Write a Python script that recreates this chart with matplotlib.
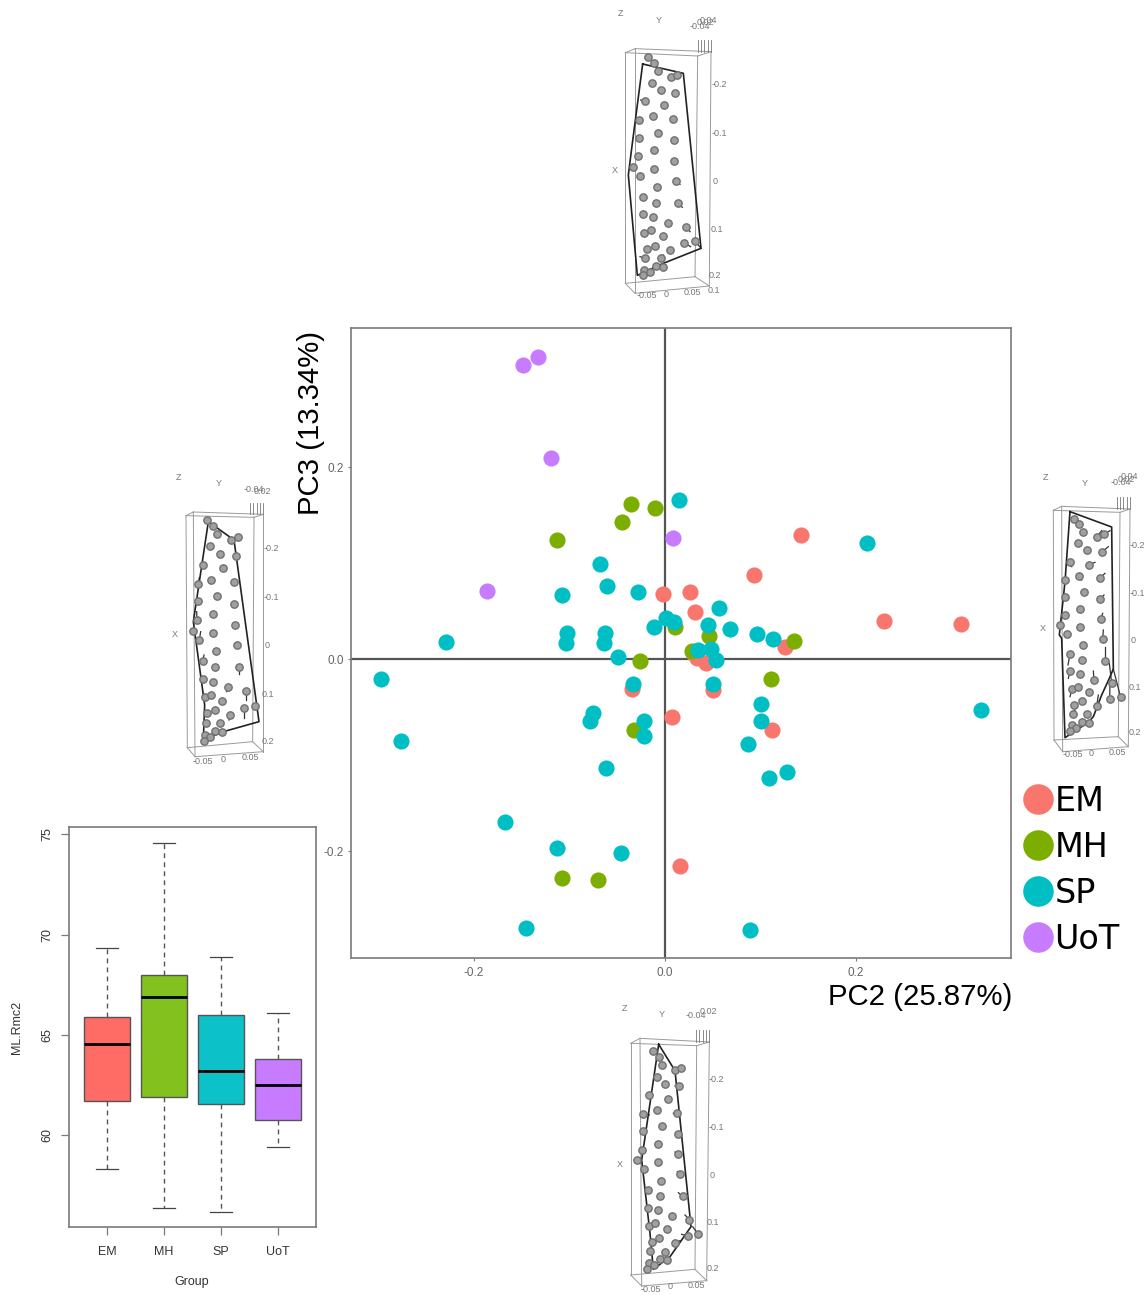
import numpy as np
import matplotlib
matplotlib.use('Agg')
import matplotlib.pyplot as plt
from matplotlib.lines import Line2D

W, H = 1147, 1295
plt.rcParams['font.family'] = ['Liberation Sans', 'DejaVu Sans']
plt.rcParams['axes.unicode_minus'] = False

# PCA scores (PC2, PC3)
em_x = [-0.002, 0.026, 0.031, 0.093, 0.142, 0.229, 0.310, 0.126, 0.029, 0.034, 0.043, 0.050, -0.035, 0.007, 0.112, 0.016]
em_y = [0.068, 0.070, 0.049, 0.0875, 0.129, 0.040, 0.036, 0.012, 0.006, 0.001, -0.004, -0.032, -0.031, -0.060, -0.074, -0.216]
mh_x = [-0.036, -0.010, -0.045, -0.113, 0.010, 0.046, 0.135, 0.028, -0.026, 0.111, -0.032, -0.108, -0.070]
mh_y = [0.161, 0.157, 0.143, 0.124, 0.033, 0.024, 0.019, 0.008, -0.002, -0.021, -0.074, -0.228, -0.230]
sp_x = [0.015, 0.212, -0.068, -0.061, -0.028, -0.108, 0.057, 0.001, 0.009, -0.012, 0.045, 0.068, 0.096, 0.113,
        -0.103, -0.104, -0.063, -0.064, -0.049, 0.035, 0.048, 0.053, -0.034, 0.050, 0.101, 0.101, -0.075, -0.079,
        -0.022, -0.022, 0.087, -0.229, -0.297, -0.276, 0.331, -0.062, 0.128, 0.109, -0.168, -0.113, -0.046, -0.146, 0.089]
sp_y = [0.166, 0.121, 0.099, 0.076, 0.070, 0.067, 0.053, 0.043, 0.039, 0.033, 0.035, 0.031, 0.026, 0.021,
        0.027, 0.017, 0.027, 0.017, 0.002, 0.009, 0.010, -0.001, -0.026, -0.026, -0.047, -0.065, -0.056, -0.065,
        -0.065, -0.080, -0.089, 0.018, -0.021, -0.085, -0.053, -0.114, -0.118, -0.124, -0.170, -0.197, -0.202, -0.280, -0.282]
uot_x = [-0.133, -0.149, -0.119, 0.008, -0.186]
uot_y = [0.315, 0.306, 0.209, 0.126, 0.071]

groups = ['EM', 'MH', 'SP', 'UoT']
point_colors = ['#F8766D', '#7CAE00', '#00BFC4', '#C77CFF']
box_colors = ['#FF6B65', '#83C11F', '#0CC1C7', '#C77CFF']
spine_color = '#7a7a7a'

# boxplot stats: low whisker, q1, median, q3, high whisker
box_low = [58.29, 56.39, 56.17, 59.4]
box_q1 = [61.7, 61.91, 61.58, 60.78]
box_med = [64.53, 66.87, 63.18, 62.5]
box_q3 = [65.87, 67.99, 66.01, 63.78]
box_high = [69.32, 74.58, 68.89, 66.09]

# shape panels, read in 3x crop coordinates
top_pts = [(145,171),(162,188),(173,214),(212,230),(232,224),(155,250),(183,271),(225,278),(134,304),(191,316),(118,361),(158,348),(220,358),(116,413),(175,399),(221,421),(114,468),(161,451),(223,482),(100,500),(120,527),(162,507),(229,544),(170,562),(129,590),(168,608),(235,610),(129,643),(160,651),(205,668),(258,681),(133,698),(153,690),(188,708),(142,746),(166,737),(211,750),(253,729),(285,723),(136,775),(183,775),(168,797),(188,800),(133,810),(150,817),(128,826)]
top_hull = [(128,192),(250,220),(303,745),(190,790),(112,826),(85,525),(97,430),(128,192)]
top_stems = [((229,544),(240,553)),((235,610),(247,622)),((258,681),(270,695)),((253,729),(272,740)),((285,723),(303,745)),((136,775),(120,770)),((183,775),(190,765)),((134,304),(122,300)),((133,810),(118,825))]
top_box = [(76,158),(293,168),(285,830),(76,850),(105,146),(333,155),(328,858),(105,880)]
top_labels = [(60,42,'Z'),(175,62,'Y'),(44,512,'X'),(358,254,'-0.2'),(358,400,'-0.1'),(345,545,'0'),(352,688,'0.1'),(345,828,'0.2'),(342,872,'0.1'),(142,888,'-0.05'),(198,884,'0'),(278,878,'0.05'),(300,80,'-0.04'),(325,62,'0.04'),(315,68,'0.02')]

left_pts = [(140,165),(158,183),(170,206),(212,225),(235,216),(151,244),(181,266),(227,272),(130,300),(189,310),(115,356),(154,344),(221,352),(113,409),(172,394),(222,417),(111,465),(159,447),(224,479),(98,498),(118,525),(160,504),(230,541),(168,559),(128,587),(166,606),(236,607),(129,641),(159,650),(204,667),(258,678),(134,697),(153,689),(187,707),(142,745),(165,736),(210,750),(252,729),(285,722),(138,773),(181,775),(165,797),(186,801),(135,809),(149,816),(131,827)]
left_hull = [(145,170),(222,225),(297,770),(190,800),(130,825),(134,720),(100,470),(145,170)]
left_stems = [((258,678),(258,705)),((252,729),(252,760)),((236,607),(236,628)),((118,525),(122,500)),((128,587),(132,570)),((111,465),(110,440)),((115,356),(118,338)),((210,750),(207,765)),((204,667),(200,680))]
left_box = [(78,152),(282,157),(278,830),(82,848),(100,141),(310,148),(310,860),(105,875)]
left_labels = [(54,38,'Z'),(176,55,'Y'),(45,508,'X'),(333,250,'-0.2'),(333,396,'-0.1'),(320,542,'0'),(325,688,'0.1'),(325,830,'0.2'),(130,888,'-0.05'),(190,882,'0'),(272,876,'0.05'),(283,72,'-0.04'),(308,80,'0.02')]

right_pts = [(131,161),(148,177),(159,200),(200,216),(222,208),(143,235),(171,256),(215,262),(121,290),(178,299),(106,344),(146,332),(209,340),(104,396),(162,380),(210,403),(104,449),(149,432),(212,461),(91,480),(110,506),(150,487),(218,522),(158,540),(120,566),(156,585),(224,587),(120,619),(149,626),(192,644),(245,654),(126,673),(143,665),(176,682),(133,720),(155,709),(200,724),(239,703),(272,697),(128,748),(171,748),(155,770),(176,773),(127,781),(137,789),(120,798)]
right_hull = [(120,140),(245,186),(250,612),(238,640),(215,690),(190,755),(175,772),(105,818),(95,520),(88,510),(105,350),(120,140)]
right_stems = [((218,522),(220,495)),((224,587),(224,545)),((245,654),(238,595)),((239,703),(240,650)),((272,697),(250,612)),((192,644),(190,618)),((200,724),(205,690)),((120,566),(114,600)),((120,619),(115,640)),((126,673),(120,695)),((128,748),(135,735)),((200,216),(215,197)),((222,208),(240,197)),((215,262),(235,245)),((209,340),(225,325)),((210,403),(222,390)),((212,461),(218,445)),((178,299),(195,292)),((121,290),(125,305)),((146,332),(155,345))]
right_box = [(70,136),(270,142),(265,815),(72,825),(95,124),(300,132),(295,845),(98,860)]
right_labels = [(47,36,'Z'),(165,54,'Y'),(38,490,'X'),(322,240,'-0.2'),(322,384,'-0.1'),(308,527,'0'),(314,668,'0.1'),(314,803,'0.2'),(128,868,'-0.05'),(184,865,'0'),(262,862,'0.05'),(272,52,'-0.04'),(298,34,'0.04'),(290,42,'0.02')]

bottom_pts = [(158,152),(176,170),(185,194),(224,211),(244,204),(170,231),(196,252),(238,259),(148,285),(204,296),(130,342),(171,329),(232,338),(129,394),(187,379),(233,401),(127,449),(174,431),(235,462),(112,481),(132,507),(175,487),(240,523),(182,542),(143,569),(180,588),(248,589),(143,624),(173,631),(217,648),(268,659),(147,678),(166,670),(201,687),(155,726),(178,715),(224,729),(264,708),(294,702),(149,754),(195,755),(179,777),(201,781),(147,789),(163,795),(142,807)]
bottom_hull = [(176,133),(225,212),(273,680),(210,770),(160,808),(150,700),(125,480),(176,133)]
bottom_stems = [((268,659),(255,645)),((248,589),(235,578)),((294,702),(278,680)),((224,729),(240,722)),((240,523),(232,515)),((235,462),(225,456)),((232,338),(220,340)),((238,259),(225,258)),((130,342),(148,345)),((264,708),(245,703))]
bottom_box = [(92,130),(290,137),(285,808),(92,825),(120,115),(328,126),(320,842),(125,858)]
bottom_labels = [(72,26,'Z'),(186,44,'Y'),(58,494,'X'),(348,238,'-0.2'),(348,382,'-0.1'),(335,527,'0'),(340,668,'0.1'),(340,806,'0.2'),(152,868,'-0.05'),(210,860,'0'),(288,856,'0.05'),(288,48,'-0.04'),(325,34,'0.02')]


def add_axes_px(x0, y0, w, h):
    return fig.add_axes([x0 / W, 1 - (y0 + h) / H, w / W, h / H])


def draw_panel(x0, y0, w, h, pts, hull, stems, box, labels):
    ax = add_axes_px(x0, y0, w, h)
    ax.set_xlim(0, w * 3)
    ax.set_ylim(h * 3, 0)
    ax.axis('off')
    # wireframe: corners are front tl, tr, br, bl then back tl, tr, br, bl
    for i, j in [(0,1),(1,2),(2,3),(3,0),(4,5),(5,6),(6,7),(7,4),(0,4),(1,5),(2,6),(3,7)]:
        ax.plot([box[i][0], box[j][0]], [box[i][1], box[j][1]], color='#9a9a9a', lw=0.7)
    # tick stubs on the corner
    tx, ty = box[5]
    for k in range(5):
        ax.plot([tx - k * 10, tx - k * 10], [ty, ty - 35], color='#777777', lw=0.6)
    for a, b in stems:
        ax.plot([a[0], b[0]], [a[1], b[1]], color='#333333', lw=0.9)
    hx, hy = zip(*hull)
    ax.plot(hx, hy, color='#222222', lw=1.2)
    px, py = zip(*pts)
    ax.scatter(px, py, s=28, color='#a0a0a0', edgecolors='#707070', linewidths=1.0, zorder=3)
    for lx, ly, txt in labels:
        ax.text(lx, ly, txt, fontsize=6.5, color='#777777', ha='center', va='center')


fig = plt.figure(figsize=(W / 100, H / 100), dpi=100)

# main PCA scatter
ax = add_axes_px(351, 328, 660, 630)
ax.set_xlim((351 - 665) / 955, (1011 - 665) / 955)
ax.set_ylim((659 - 958) / 960, (659 - 328) / 960)
ax.axhline(0, color='#555555', lw=1.6, zorder=1)
ax.axvline(0, color='#555555', lw=1.6, zorder=1)
for xs, ys, c in zip([em_x, mh_x, sp_x, uot_x], [em_y, mh_y, sp_y, uot_y], point_colors):
    ax.scatter(xs, ys, s=135, color=c, linewidths=0, zorder=3)
ax.set_xticks([-0.2, 0.0, 0.2])
ax.set_yticks([-0.2, 0.0, 0.2])
ax.tick_params(length=2.2, width=0.8, color=spine_color, labelsize=8.5, labelcolor='#666666')
ax.tick_params(axis='x', pad=4)
ax.tick_params(axis='y', pad=3)
for s in ax.spines.values():
    s.set_linewidth(1.2)
    s.set_color(spine_color)
fig.text(828 / W, 1 - 997 / H, 'PC2 (25.87%)', fontsize=21.2, ha='left', va='center')
fig.text(311 / W, 1 - 423 / H, 'PC3 (13.34%)', fontsize=21.2, rotation=90, ha='center', va='center')

handles = [Line2D([], [], marker='o', linestyle='', color=c, markersize=22, markeredgewidth=0) for c in point_colors]
fig.legend(handles, groups, loc='upper left', bbox_to_anchor=(1021 / W, 1 - 785 / H), frameon=False,
           prop={'family': 'DejaVu Sans', 'size': 24}, handlelength=1, handletextpad=0.0, labelspacing=0.39,
           borderaxespad=0, borderpad=0)

# boxplot
bx = add_axes_px(69, 827, 247, 400)
stats = [dict(whislo=lo, q1=q1, med=m, q3=q3, whishi=hi, fliers=[])
         for lo, q1, m, q3, hi in zip(box_low, box_q1, box_med, box_q3, box_high)]
art = bx.bxp(stats, positions=[1, 2, 3, 4], widths=0.8, patch_artist=True, showfliers=False,
             medianprops=dict(color='black', lw=2, solid_capstyle='butt'),
             whiskerprops=dict(color='#555555', lw=1.0, linestyle=(0, (3.5, 3))),
             capprops=dict(color='#444444', lw=0.9),
             boxprops=dict(edgecolor='#555555', lw=1.0))
for patch, c in zip(art['boxes'], box_colors):
    patch.set_facecolor(c)
for cap in art['caps']:
    cap.set_xdata(np.mean(cap.get_xdata()) + np.array([-0.2, 0.2]))
bx.set_xlim(1 - 38 / 57.1, 4 + 38 / 57.1)
bx.set_ylim(60 - 91.7 / 20.03, 75 + 7.4 / 20.03)
bx.set_xticks([1, 2, 3, 4], groups)
bx.set_yticks([60, 65, 70, 75])
bx.tick_params(axis='both', labelsize=9, labelcolor='#333333', length=5.5, width=0.9, color=spine_color, pad=8)
bx.tick_params(axis='y', labelrotation=90, pad=6)
for lab in bx.get_yticklabels():
    lab.set_va('center')
for s in bx.spines.values():
    s.set_linewidth(1.2)
    s.set_color(spine_color)
fig.text(192 / W, 1 - 1282 / H, 'Group', fontsize=9, color='#333333', ha='center', va='center')
fig.text(17 / W, 1 - 1027 / H, 'ML.Rmc2', fontsize=9, color='#333333', rotation=90, ha='center', va='center')

draw_panel(600, 0, 140, 310, top_pts, top_hull, top_stems, top_box, top_labels)
draw_panel(160, 465, 140, 310, left_pts, left_hull, left_stems, left_box, left_labels)
draw_panel(1030, 465, 117, 310, right_pts, right_hull, right_stems, right_box, right_labels)
draw_panel(600, 1000, 140, 295, bottom_pts, bottom_hull, bottom_stems, bottom_box, bottom_labels)

fig.savefig('out.png', dpi=100)
